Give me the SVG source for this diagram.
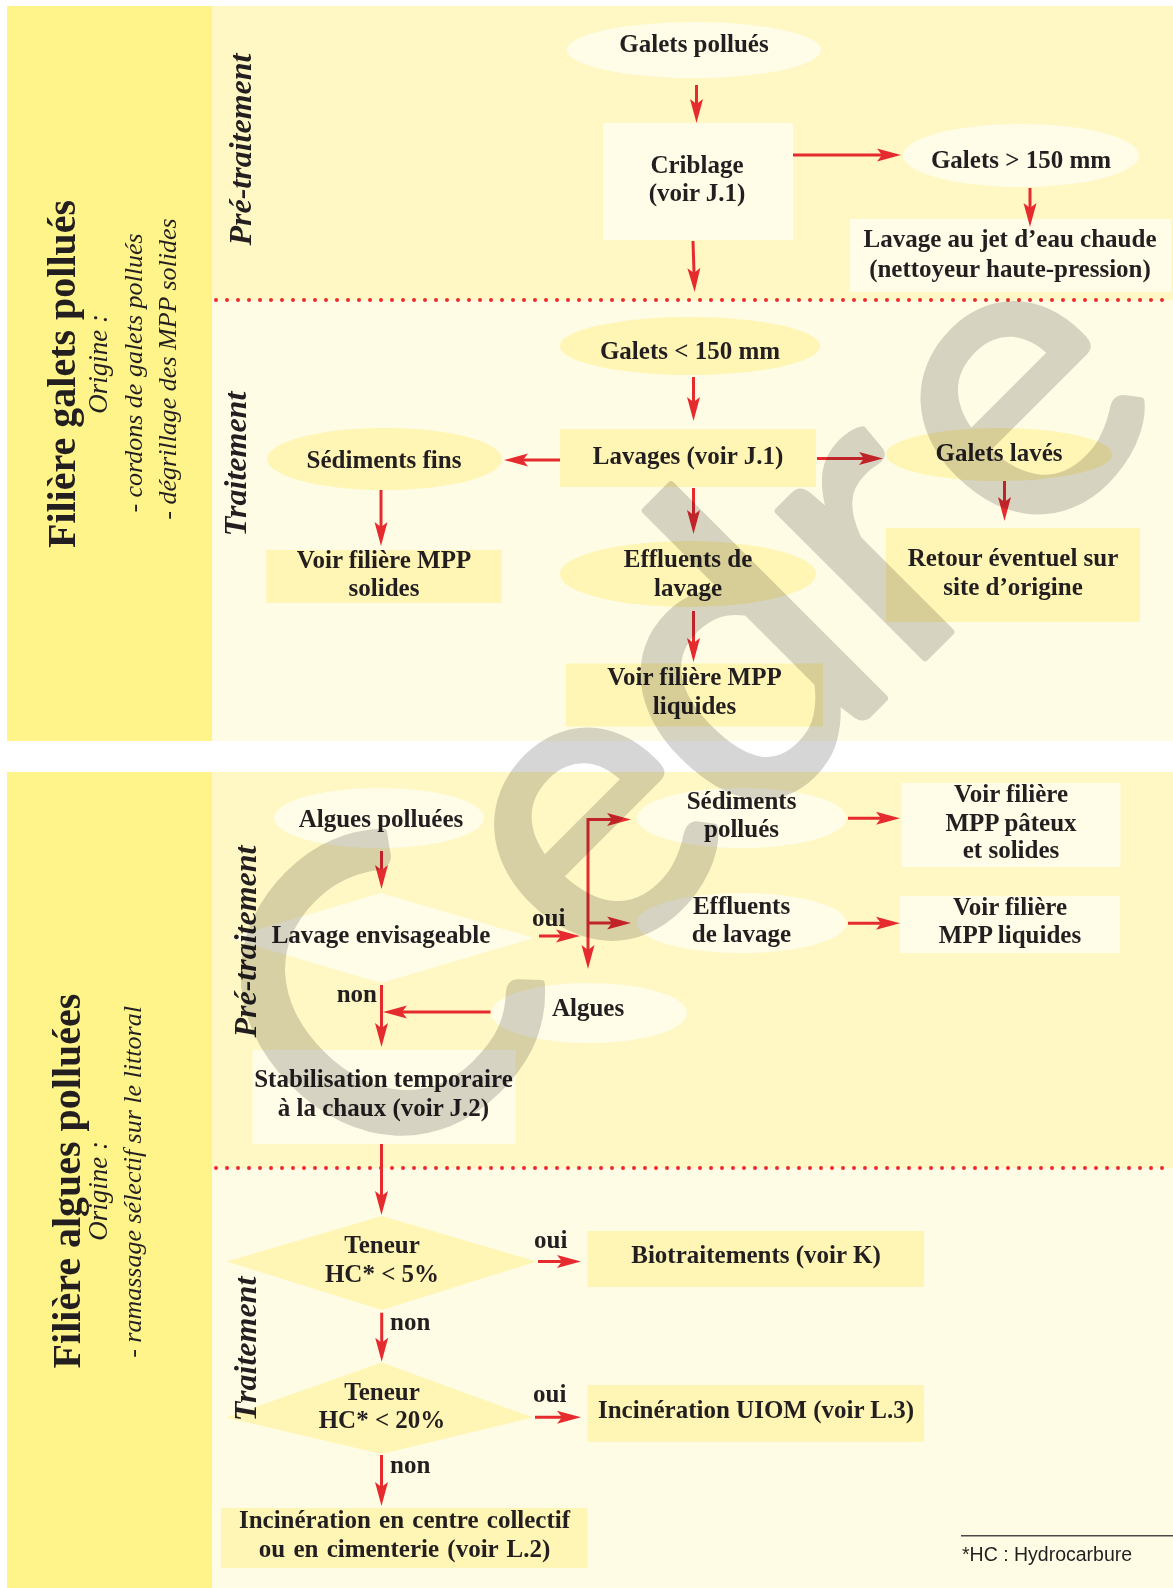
<svg xmlns="http://www.w3.org/2000/svg" width="1173" height="1588" viewBox="0 0 1173 1588">
<defs>
<style>
.t{font-family:"Liberation Serif","Times New Roman",serif;font-weight:bold;font-size:25px;fill:#231F20;text-anchor:middle}
.lb{font-family:"Liberation Serif","Times New Roman",serif;font-weight:bold;font-size:25px;fill:#231F20}
.sec{font-family:"Liberation Serif","Times New Roman",serif;font-weight:bold;font-style:italic;font-size:32px;fill:#231F20;text-anchor:middle}
.title{font-family:"Liberation Serif","Times New Roman",serif;font-weight:bold;font-size:40px;fill:#231F20;text-anchor:middle}
.orig{font-family:"Liberation Serif","Times New Roman",serif;font-style:italic;font-size:27px;fill:#231F20;text-anchor:middle}
.sub{font-family:"Liberation Serif","Times New Roman",serif;font-style:italic;font-size:26px;fill:#231F20;text-anchor:middle}
.band{fill:#FEF48A}
.pre{fill:#FFF8C4}
.trt{fill:#FFFCE5}
.light{fill:#FFFCE7}
.yel{fill:#FFF5B4}
.conn{stroke:#E62B2F;stroke-width:3;fill:none;marker-end:url(#ah)}
.dots{stroke:#EE2A2E;stroke-width:4;stroke-dasharray:0 11;stroke-linecap:round;fill:none}
.wm{font-family:Lato,"DejaVu Sans",sans-serif;font-size:410px;fill:#D6D6D6;stroke:#D6D6D6;stroke-width:7;stroke-linejoin:round;mix-blend-mode:multiply}
.foot{font-family:"Liberation Sans",Arial,sans-serif;font-size:19.5px;fill:#231F20}
</style>
<marker id="ah" markerUnits="userSpaceOnUse" markerWidth="24" markerHeight="14" refX="14" refY="7" orient="auto">
<path d="M0,0.5 L24,7 L0,13.5 L5,7 Z" fill="#E62B2F"/>
</marker>
</defs>

<g id="backgrounds">
<rect class="band" x="7" y="6" width="205" height="735"/>
<rect class="pre" x="212" y="6" width="961" height="294"/>
<rect class="trt" x="212" y="300" width="961" height="441"/>
<rect class="band" x="7" y="772" width="205" height="816"/>
<rect class="pre" x="212" y="772" width="961" height="396"/>
<rect class="trt" x="212" y="1168" width="961" height="420"/>
<line class="dots" x1="216" y1="300" x2="1173" y2="300"/>
<line class="dots" x1="216" y1="1168" x2="1173" y2="1168"/>
</g>

<g id="n_galets_pollues"><ellipse class="light" cx="694" cy="50" rx="127" ry="28"/><text class="t" x="694" y="52">Galets pollués</text></g>
<g id="n_criblage"><rect class="light" x="603" y="123" width="190" height="117"/><text class="t" x="697" y="173">Criblage</text><text class="t" x="697" y="201">(voir J.1)</text></g>
<g id="n_galets_gt150"><ellipse class="light" cx="1021" cy="155.5" rx="118" ry="31.5"/><text class="t" x="1021" y="168">Galets &gt; 150 mm</text></g>
<g id="n_lavage_jet"><rect class="light" x="850" y="219" width="321" height="73"/><text class="t" x="1010" y="247">Lavage au jet d’eau chaude</text><text class="t" x="1010" y="277">(nettoyeur haute-pression)</text></g>
<g id="n_galets_lt150"><ellipse class="yel" cx="690" cy="346" rx="130" ry="29"/><text class="t" x="690" y="359">Galets &lt; 150 mm</text></g>
<g id="n_lavages"><rect class="yel" x="560" y="429" width="256" height="58"/><text class="t" x="688" y="464">Lavages (voir J.1)</text></g>
<g id="n_sed_fins"><ellipse class="yel" cx="384.5" cy="459" rx="117.5" ry="31"/><text class="t" x="384" y="468">Sédiments fins</text></g>
<g id="n_mpp_solides"><rect class="yel" x="266" y="550" width="236" height="53"/><text class="t" x="384" y="568">Voir filière MPP</text><text class="t" x="384" y="596">solides</text></g>
<g id="n_galets_laves"><ellipse class="yel" cx="999" cy="454.5" rx="113" ry="26.5"/><text class="t" x="999" y="461">Galets lavés</text></g>
<g id="n_retour"><rect class="yel" x="886" y="528" width="254" height="94"/><text class="t" x="1013" y="566">Retour éventuel sur</text><text class="t" x="1013" y="594.6">site d’origine</text></g>
<g id="n_effluents1"><ellipse class="yel" cx="688" cy="574" rx="128" ry="33"/><text class="t" x="688" y="567">Effluents de</text><text class="t" x="688" y="595.7">lavage</text></g>
<g id="n_mpp_liquides1"><rect class="yel" x="566" y="663.5" width="257" height="63"/><text class="t" x="694.5" y="685">Voir filière MPP</text><text class="t" x="694.5" y="714">liquides</text></g>

<g id="n_algues_polluees"><ellipse class="light" cx="379" cy="818" rx="105" ry="30"/><text class="t" x="381" y="826.5">Algues polluées</text></g>
<g id="n_lavage_env"><polygon class="light" points="381,893 534,938 381,983 229,938"/><text class="t" x="381" y="943">Lavage envisageable</text></g>
<g id="n_sed_pollues"><ellipse class="light" cx="741.6" cy="818" rx="105" ry="30"/><text class="t" x="741.5" y="809">Sédiments</text><text class="t" x="741.5" y="837">pollués</text></g>
<g id="n_effluents2"><ellipse class="light" cx="741.6" cy="923" rx="105" ry="30"/><text class="t" x="741.5" y="914">Effluents</text><text class="t" x="741.5" y="941.7">de lavage</text></g>
<g id="n_mpp_pateux"><rect class="light" x="901.5" y="783" width="219" height="84"/><text class="t" x="1011" y="801.7">Voir filière</text><text class="t" x="1011" y="830.7">MPP pâteux</text><text class="t" x="1011" y="858.3">et solides</text></g>
<g id="n_mpp_liquides2"><rect class="light" x="900" y="896" width="220" height="57"/><text class="t" x="1010" y="915">Voir filière</text><text class="t" x="1010" y="943.3">MPP liquides</text></g>
<g id="n_algues"><ellipse class="light" cx="589" cy="1013" rx="98" ry="30"/><text class="t" x="588" y="1015.5">Algues</text></g>
<g id="n_stabilisation"><rect class="light" x="252.7" y="1050" width="263" height="94"/><text class="t" x="383.5" y="1087">Stabilisation temporaire</text><text class="t" x="383.5" y="1116">à la chaux (voir J.2)</text></g>
<g id="n_teneur5"><polygon class="yel" points="381.7,1216 536.5,1261.5 381.7,1310 226.7,1261.5"/><text class="t" x="382" y="1252.7">Teneur</text><text class="t" x="382" y="1281.7">HC* &lt; 5%</text></g>
<g id="n_biotraitements"><rect class="yel" x="587.6" y="1231" width="336.4" height="56"/><text class="t" x="756" y="1263.3">Biotraitements (voir K)</text></g>
<g id="n_teneur20"><polygon class="yel" points="381.7,1362.5 533,1417.5 381.7,1454 226,1417.5"/><text class="t" x="382" y="1400">Teneur</text><text class="t" x="382" y="1428.3">HC* &lt; 20%</text></g>
<g id="n_incin_uiom"><rect class="yel" x="587.6" y="1385" width="336.4" height="56.7"/><text class="t" x="756" y="1418.3">Incinération UIOM (voir L.3)</text></g>
<g id="n_incin_collectif"><rect class="yel" x="221" y="1508" width="366.5" height="60"/><text class="t" x="404.5" y="1528" word-spacing="2">Incinération en centre collectif</text><text class="t" x="404.5" y="1557" word-spacing="2">ou en cimenterie (voir L.2)</text></g>

<g id="side-labels">
<text class="title" transform="translate(75,374) rotate(-90)">Filière galets pollués</text>
<text class="orig" transform="translate(107,364) rotate(-90)">Origine :</text>
<text class="sub" transform="translate(141.5,373) rotate(-90)">- cordons de galets pollués</text>
<text class="sub" transform="translate(176,369) rotate(-90)">- dégrillage des MPP solides</text>
<text class="title" transform="translate(80,1181) rotate(-90)">Filière algues polluées</text>
<text class="orig" transform="translate(107,1191) rotate(-90)">Origine :</text>
<text class="sub" transform="translate(140.5,1182) rotate(-90)">- ramassage sélectif sur le littoral</text>
<text class="sec" transform="translate(250.5,149.5) rotate(-90)">Pré-traitement</text>
<text class="sec" transform="translate(245.7,464) rotate(-90)">Traitement</text>
<text class="sec" transform="translate(255.6,941.5) rotate(-90)">Pré-traitement</text>
<text class="sec" transform="translate(256,1349) rotate(-90)">Traitement</text>
</g>

<g id="connectors">
<path class="conn" d="M696.5,85 V113"/>
<path class="conn" d="M793,155 H891"/>
<path class="conn" d="M1030,188 V217"/>
<path class="conn" d="M693,241 L694.3,282"/>
<path class="conn" d="M693.5,377 V411"/>
<path class="conn" d="M560,460 H514"/>
<path class="conn" d="M381,490 V536"/>
<path class="conn" d="M817,458.5 H873"/>
<path class="conn" d="M1004.5,481 V511"/>
<path class="conn" d="M693.5,488 V524"/>
<path class="conn" d="M693.5,611 V652"/>
<path class="conn" d="M381.5,851 V879"/>
<path class="conn" d="M539,936 H570"/>
<path class="conn" d="M588,818 V959"/>
<path class="conn" d="M588,819.5 H621"/>
<path class="conn" d="M588,923 H621"/>
<path class="conn" d="M848,818.3 H890"/>
<path class="conn" d="M848,923.3 H890"/>
<path class="conn" d="M490.5,1012 H393"/>
<path class="conn" d="M381.5,985 V1037"/>
<path class="conn" d="M381.5,1144 V1205"/>
<path class="conn" d="M538,1261.5 H571"/>
<path class="conn" d="M381.7,1312.7 V1351.7"/>
<path class="conn" d="M535,1417.3 H571"/>
<path class="conn" d="M381.5,1455 V1496"/>
</g>

<g id="edge-labels">
<text class="lb" x="532" y="926">oui</text>
<text class="lb" x="377" y="1001.7" text-anchor="end">non</text>
<text class="lb" x="534" y="1248">oui</text>
<text class="lb" x="390" y="1330">non</text>
<text class="lb" x="533" y="1401.7">oui</text>
<text class="lb" x="390" y="1473.3">non</text>
</g>

<g id="footnote">
<line x1="961" y1="1535.7" x2="1173" y2="1535.7" stroke="#4A4A4A" stroke-width="1.5"/>
<text class="foot" x="962" y="1560.7">*HC : Hydrocarbure</text>
</g>

<g id="watermark">
<text class="wm" transform="translate(597,836) rotate(-45)" x="-409 -108 100 329 495" y="106">Cedre</text>
</g>
</svg>
